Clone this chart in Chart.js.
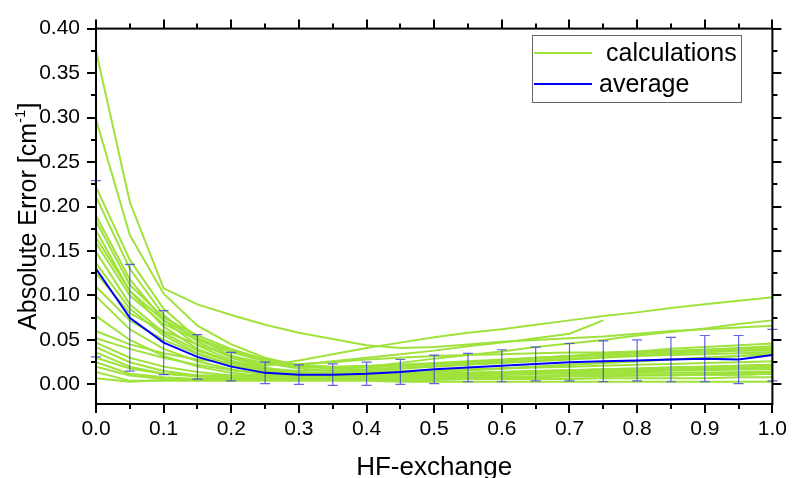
<!DOCTYPE html>
<html>
<head>
<meta charset="utf-8">
<script src="https://cdn.jsdelivr.net/npm/chart.js@4.4.0/dist/chart.umd.min.js"></script>
<style>
  html, body { margin: 0; padding: 0; background: #fff; }
</style>
</head>
<body>
<canvas id="mycanvas" width="800" height="478"></canvas>
<script>
// HF-exchange fraction (x)
var hf = [0, 0.05, 0.1, 0.15, 0.2, 0.25, 0.3, 0.35, 0.4, 0.45, 0.5,
          0.55, 0.6, 0.65, 0.7, 0.75, 0.8, 0.85, 0.9, 0.95, 1.0];

// single calculations
var calc01 = [0.375,0.205,0.108,0.090,0.078,0.067,0.058,0.051,0.044,0.041,0.042,0.045,0.048,0.050,0.052,0.054,0.057,0.060,0.062,0.064,0.066];
var calc02 = [0.298,0.168,0.102,0.066,0.045,0.030,0.021,0.018,0.020,0.024,0.029,0.033,0.037,0.042,0.046,0.050,0.055,0.059,0.063,0.068,0.072];
var calc03 = [0.222,0.140,0.085,0.052,0.032,0.021,0.027,0.034,0.041,0.047,0.053,0.058,0.062,0.067,0.072,0.077,0.081,0.086,0.090,0.094,0.098];
var calc04 = [0.211,0.130,0.078,0.048,0.030,0.019,0.013,0.011,0.011,0.012,0.014,0.016,0.018,0.020,0.022,0.024,0.026,0.028,0.030,0.032,0.034];
var calc05 = [0.190,0.118,0.072,0.044,0.027,0.017,0.012,0.010,0.010,0.011,0.012,0.013,0.014,0.015,0.016,0.017,0.018,0.019,0.020,0.021,0.022];
var calc06 = [0.184,0.112,0.075,0.055,0.040,0.028,0.022,0.026,0.030,0.034,0.038,0.043,0.047,0.052,0.057,0.072,null,null,null,null,null];
var calc07 = [0.173,0.105,0.065,0.040,0.025,0.016,0.011,0.009,0.009,0.010,0.011,0.012,0.013,0.013,0.014,0.015,0.015,0.016,0.016,0.017,0.017];
var calc08 = [0.159,0.100,0.068,0.050,0.036,0.026,0.020,0.018,0.019,0.021,0.023,0.025,0.027,0.029,0.031,0.033,0.035,0.037,0.039,0.041,0.043];
var calc09 = [0.149,0.090,0.058,0.038,0.025,0.018,0.015,0.016,0.017,0.019,0.021,0.023,0.025,0.027,0.029,0.031,0.033,0.035,0.036,0.038,0.040];
var calc10 = [0.136,0.085,0.055,0.035,0.022,0.014,0.010,0.008,0.007,0.007,0.008,0.008,0.009,0.009,0.010,0.010,0.011,0.011,0.012,0.012,0.013];
var calc11 = [0.110,0.072,0.050,0.034,0.022,0.015,0.012,0.013,0.015,0.018,0.021,0.024,0.027,0.030,0.032,0.035,0.037,0.040,0.042,0.044,0.046];
var calc12 = [0.099,0.062,0.040,0.026,0.017,0.011,0.008,0.007,0.007,0.008,0.009,0.010,0.011,0.012,0.013,0.014,0.015,0.016,0.017,0.018,0.019];
var calc13 = [0.077,0.050,0.032,0.020,0.013,0.009,0.007,0.006,0.006,0.006,0.007,0.007,0.008,0.008,0.009,0.009,0.010,0.010,0.011,0.011,0.012];
var calc14 = [0.060,0.045,0.035,0.028,0.024,0.022,0.023,0.025,0.028,0.030,0.032,0.033,0.034,0.035,0.036,0.036,0.037,0.037,0.038,0.038,0.038];
var calc15 = [0.047,0.030,0.020,0.014,0.010,0.008,0.007,0.007,0.008,0.009,0.010,0.011,0.012,0.013,0.014,0.015,0.016,0.017,0.018,0.019,0.020];
var calc16 = [0.042,0.025,0.015,0.010,0.008,0.007,0.007,0.008,0.009,0.010,0.011,0.012,0.013,0.013,0.014,0.015,0.015,0.016,0.016,0.017,0.017];
var calc17 = [0.036,0.020,0.012,0.009,0.007,0.006,0.006,0.006,0.007,0.007,0.008,0.008,0.009,0.009,0.010,0.010,0.010,0.011,0.011,0.011,0.012];
var calc18 = [0.025,0.012,0.008,0.006,0.005,0.005,0.005,0.005,0.005,0.005,0.005,0.006,0.006,0.006,0.006,0.007,0.007,0.007,0.007,0.008,0.008];
var calc19 = [0.014,0.004,0.004,0.004,0.004,0.004,0.004,0.004,0.004,0.003,0.003,0.003,0.003,0.003,0.003,0.003,0.003,0.003,0.003,0.003,0.003];
var calc20 = [0.007,0.003,0.005,0.006,0.007,0.007,0.008,0.009,0.010,0.011,0.012,0.013,0.014,0.015,0.016,0.017,0.018,0.019,0.020,0.021,0.022];
var calc21 = [0.165,0.105,0.072,0.052,0.038,0.028,0.022,0.020,0.021,0.022,0.024,0.026,0.028,0.030,0.032,0.034,0.036,0.038,0.039,0.040,0.041];
var calc22 = [0.125,0.080,0.060,0.045,0.032,0.024,0.018,0.015,0.013,0.012,0.012,0.012,0.012,0.012,0.012,0.012,0.013,0.013,0.013,0.014,0.014];
var calc23 = [0.052,0.040,0.030,0.022,0.016,0.012,0.010,0.010,0.011,0.012,0.014,0.016,0.018,0.020,0.022,0.024,0.026,0.028,0.030,0.032,0.034];
var calc24 = [0.030,0.018,0.012,0.010,0.010,0.011,0.012,0.014,0.016,0.018,0.020,0.022,0.024,0.026,0.028,0.030,0.032,0.033,0.034,0.035,0.036];
var calc25 = [0.020,0.010,0.006,0.005,0.006,0.008,0.010,0.012,0.014,0.015,0.016,0.017,0.018,0.019,0.020,0.021,0.022,0.023,0.024,0.025,0.026];

var calcs = [calc01, calc02, calc03, calc04, calc05, calc06, calc07, calc08, calc09, calc10,
             calc11, calc12, calc13, calc14, calc15, calc16, calc17, calc18, calc19, calc20,
             calc21, calc22, calc23, calc24, calc25];

// average and its spread
var average    = [0.130,0.075,0.047,0.031,0.020,0.013,0.011,0.011,0.012,0.014,0.017,0.019,0.021,0.023,0.025,0.026,0.027,0.028,0.029,0.028,0.033];
var averageErr = [0.099,0.060,0.036,0.025,0.016,0.012,0.011,0.012,0.013,0.014,0.016,0.016,0.018,0.019,0.021,0.023,0.023,0.025,0.026,0.027,0.029];

var xTicks = [0, 0.1, 0.2, 0.3, 0.4, 0.5, 0.6, 0.7, 0.8, 0.9, 1.0];
var yTicks = [0, 0.05, 0.1, 0.15, 0.2, 0.25, 0.3, 0.35, 0.4];
var legendLabels = ['calculations', 'average'];

var green = '#9fe23c';
var blue = '#0000ff';

var datasets = [];
datasets.push({
  label: 'average',
  data: average,
  borderColor: blue,
  borderWidth: 2,
  pointRadius: 0,
  fill: false,
  order: 0
});
for (var i in calcs) {
  datasets.push({
    label: 'calculations',
    data: calcs[i],
    borderColor: green,
    borderWidth: 2,
    pointRadius: 0,
    fill: false,
    spanGaps: false,
    order: 1
  });
}

var frame = {
  id: 'frame',
  beforeDatasetDraw: function(chart, args) {
    if (chart.data.datasets[args.index].label !== 'average') return;
    var ctx = chart.ctx, xs = chart.scales.x, ys = chart.scales.y;
    ctx.save();
    ctx.strokeStyle = 'rgba(60,60,225,0.8)';
    ctx.lineWidth = 1.2;
    for (var k = 0; k < hf.length; k++) {
      var px = xs.getPixelForValue(hf[k]);
      var top = ys.getPixelForValue(average[k] + averageErr[k]);
      var bot = ys.getPixelForValue(average[k] - averageErr[k]);
      ctx.beginPath();
      ctx.moveTo(px, top); ctx.lineTo(px, bot);
      ctx.moveTo(px - 5, top); ctx.lineTo(px + 5, top);
      ctx.moveTo(px - 5, bot); ctx.lineTo(px + 5, bot);
      ctx.stroke();
    }
    ctx.restore();
  },
  afterDatasetsDraw: function(chart) {
    var ctx = chart.ctx, a = chart.chartArea, xs = chart.scales.x, ys = chart.scales.y;
    ctx.save();
    ctx.strokeStyle = '#000';
    ctx.lineWidth = 2;
    ctx.strokeRect(a.left, a.top, a.right - a.left, a.bottom - a.top);

    // x ticks (major 0.1, minor 0.05), bottom + top, outward
    for (var k = 0; k < hf.length; k++) {
      var len = xTicks.indexOf(hf[k]) >= 0 ? 9 : 5;
      var px = Math.round(xs.getPixelForValue(hf[k]));
      ctx.beginPath();
      ctx.moveTo(px, a.bottom); ctx.lineTo(px, a.bottom + len);
      ctx.moveTo(px, a.top); ctx.lineTo(px, a.top - len);
      ctx.stroke();
    }
    // y ticks (major 0.05, minor between), left + right, outward
    for (var j = 0; j < yTicks.length; j++) {
      var vals = [[yTicks[j], 9]];
      if (j < yTicks.length - 1) vals.push([(yTicks[j] + yTicks[j + 1]) / 2, 5]);
      vals.forEach(function(v) {
        var py = Math.round(ys.getPixelForValue(v[0]));
        ctx.beginPath();
        ctx.moveTo(a.left, py); ctx.lineTo(a.left - v[1], py);
        ctx.moveTo(a.right, py); ctx.lineTo(a.right + v[1], py);
        ctx.stroke();
      });
    }

    // legend box
    var lx = 532, ly = 35, lw = 209, lh = 67;
    ctx.fillStyle = '#fff';
    ctx.fillRect(lx, ly, lw, lh);
    ctx.lineWidth = 1;
    ctx.strokeStyle = '#666';
    ctx.strokeRect(lx + 0.5, ly + 0.5, lw, lh);
    ctx.lineWidth = 2;
    ctx.strokeStyle = green;
    ctx.beginPath(); ctx.moveTo(lx + 2, 53); ctx.lineTo(lx + 60, 53); ctx.stroke();
    ctx.strokeStyle = blue;
    ctx.beginPath(); ctx.moveTo(lx + 2, 84); ctx.lineTo(lx + 60, 84); ctx.stroke();
    ctx.fillStyle = '#000';
    ctx.font = '25px "Liberation Sans", Arial, sans-serif';
    ctx.textBaseline = 'middle';
    ctx.textAlign = 'left';
    ctx.fillText(legendLabels[0], lx + 74, 54);
    ctx.fillText(legendLabels[1], lx + 67, 85);

    // y axis title with superscript
    var big = '25px "Liberation Sans", Arial, sans-serif';
    var small = '15px "Liberation Sans", Arial, sans-serif';
    var p1 = 'Absolute Error [cm', p2 = '-1', p3 = ']';
    ctx.font = big;
    var w1 = ctx.measureText(p1).width, w3 = ctx.measureText(p3).width;
    ctx.font = small;
    var w2 = ctx.measureText(p2).width;
    var total = w1 + w2 + w3;
    ctx.translate(36, (a.top + a.bottom) / 2);
    ctx.rotate(-Math.PI / 2);
    ctx.textBaseline = 'alphabetic';
    ctx.font = big;
    ctx.fillText(p1, -total / 2, 0);
    ctx.font = small;
    ctx.fillText(p2, -total / 2 + w1, -11);
    ctx.font = big;
    ctx.fillText(p3, -total / 2 + w1 + w2, 0);
    ctx.restore();
  }
};

var ctx = document.getElementById('mycanvas');
var chart = new Chart(ctx, {
  type: 'line',
  data: { labels: hf, datasets: datasets },
  plugins: [frame],
  options: {
    responsive: false,
    animation: false,
    devicePixelRatio: 1,
    layout: { padding: { top: 19, right: 18, left: 0, bottom: 0 } },
    plugins: { legend: { display: false }, tooltip: { enabled: false } },
    scales: {
      x: {
        type: 'linear',
        min: 0,
        max: 1,
        afterBuildTicks: function(s) { s.ticks = xTicks.map(function(v) { return { value: v }; }); },
        afterFit: function(s) { s.height = 74; },
        grid: { display: false, drawTicks: false },
        border: { display: false },
        ticks: {
          color: '#000',
          padding: 13,
          maxRotation: 0,
          autoSkip: false,
          font: { family: '"Liberation Sans Narrow", "Liberation Sans", Arial, sans-serif', size: 21 },
          callback: function(v) { return Number(v).toFixed(1); }
        },
        title: {
          display: true,
          text: 'HF-exchange',
          color: '#000',
          padding: { top: 0, bottom: -5 },
          font: { family: '"Liberation Sans Narrow", "Liberation Sans", Arial, sans-serif', size: 26 }
        }
      },
      y: {
        min: -0.022,
        max: 0.40,
        afterBuildTicks: function(s) { s.ticks = yTicks.map(function(v) { return { value: v }; }); },
        afterFit: function(s) { s.width = 96; },
        grid: { display: false, drawTicks: false },
        border: { display: false },
        ticks: {
          color: '#000',
          padding: 16,
          font: { family: '"Liberation Sans", Arial, sans-serif', size: 21 },
          callback: function(v) { return Number(v).toFixed(2); }
        }
      }
    }
  }
});
</script>
</body>
</html>
